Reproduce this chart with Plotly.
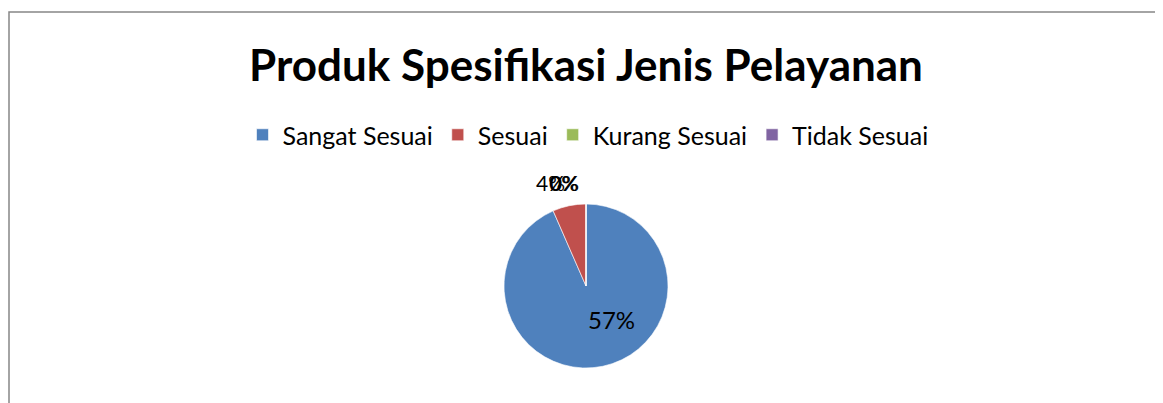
import plotly.graph_objects as go

categories = ["Sangat Sesuai", "Sesuai", "Kurang Sesuai", "Tidak Sesuai"]
values = [57, 4, 0, 0]
label_text = [f"{v}%" for v in values]

COLORS = ["#4F81BD", "#C0504D", "#9BBB59", "#8064A2"]
# page has an 8px body margin, so the figure is sized to fit the window
W, H = 1155, 395


def px_x(x):
    return x / W


def px_y(y):
    return 1 - y / H


fig = go.Figure(
    go.Pie(
        labels=categories,
        values=values,
        textinfo="none",
        marker=dict(colors=COLORS, line=dict(color="#FFFFFF", width=0.6)),
        sort=False,
        direction="clockwise",
        rotation=0,
        domain=dict(x=[px_x(392), px_x(764)], y=[px_y(360), px_y(196)]),
        hoverinfo="label+value",
    )
)

# data labels placed the way Excel did: big slice inside, the small ones
# piled on top of each other above the pie
label_pos = [(603, 311), (542, 175), (555, 175), (556, 175)]
label_size = [24, 21, 21, 21]
annotations = [
    dict(
        text=label_text[i],
        x=px_x(label_pos[i][0]),
        y=px_y(label_pos[i][1]),
        xref="paper",
        yref="paper",
        xanchor="center",
        yanchor="middle",
        showarrow=False,
        font=dict(size=label_size[i], color="#000000"),
    )
    for i in range(len(values))
]

fig.update_layout(
    width=W,
    height=H,
    margin=dict(l=0, r=0, t=0, b=0),
    paper_bgcolor="#FFFFFF",
    font=dict(family="Lato, Carlito, Calibri, sans-serif", color="#000000", size=20),
    title=dict(
        text="<b>Produk Spesifikasi Jenis Pelayanan</b>",
        x=px_x(578),
        xanchor="center",
        y=px_y(58),
        yanchor="middle",
        font=dict(size=44, color="#000000"),
    ),
    legend=dict(
        orientation="h",
        x=px_x(580),
        xanchor="center",
        y=px_y(127),
        yanchor="middle",
        font=dict(size=25),
        itemwidth=30,
        traceorder="normal",
    ),
    annotations=annotations,
    shapes=[
        dict(
            type="rect",
            xref="paper",
            yref="paper",
            x0=px_x(1),
            x1=px_x(1152),
            y0=-0.2,
            y1=px_y(4),
            line=dict(color="#868686", width=1.5),
        )
    ],
)

fig.write_html("out.html")
